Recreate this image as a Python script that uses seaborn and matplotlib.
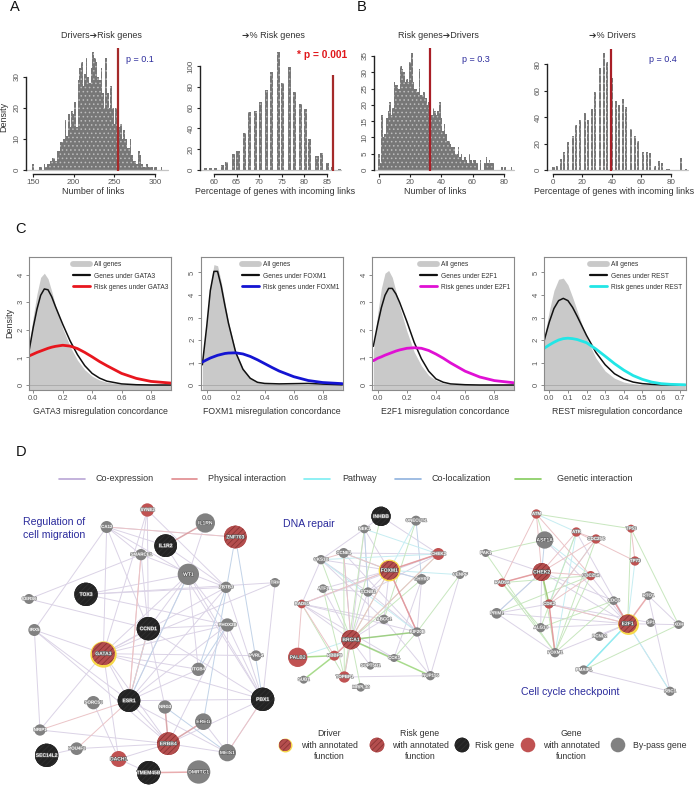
import numpy as np
import matplotlib
matplotlib.use("Agg")
import matplotlib.pyplot as plt
import matplotlib.patheffects as pe
from matplotlib.lines import Line2D
import seaborn as sns

W, H = 696, 787

# panel A / B histograms
a1_x = list(range(150, 310, 2))
a1_y = [2, 0, 0, 0, 1, 1, 0, 2, 1, 2, 2, 3, 4, 4, 3, 6, 6, 9, 9, 10,
        16, 11, 18, 14, 19, 18, 22, 14, 29, 33, 35, 27, 31, 36, 30, 28, 33, 38, 36, 35,
        30, 29, 33, 25, 20, 36, 25, 20, 27, 20, 15, 20, 20, 14, 15, 10, 13, 10, 7, 7,
        10, 5, 3, 3, 2, 6, 5, 2, 1, 1, 2, 1, 1, 1, 0, 1, 1, 0, 0, 1]
a2_x = [58.2, 59.3, 60.3, 61.8, 62.8, 64.3, 65.3, 66.7, 67.8, 69.2, 70.2, 71.7, 72.7,
        74.2, 75.2, 76.7, 77.8, 79.2, 80.3, 81.2, 82.8, 83.7, 85.2, 86.2, 87.7]
a2_y = [2, 2, 2, 5, 8, 15, 18, 36, 56, 57, 65, 77, 94, 113, 84, 99, 75, 63, 59, 30, 13, 16, 7, 3, 1]
b1_x = list(range(0, 86))
b1_y = [5, 2, 17, 10, 11, 16, 18, 21, 17, 19, 27, 26, 26, 25, 32, 31, 30, 27, 28, 27,
        33, 36, 27, 25, 25, 24, 31, 23, 23, 24, 22, 20, 21, 18, 17, 19, 18, 17, 18, 21,
        16, 12, 14, 11, 9, 9, 8, 7, 7, 5, 5, 7, 4, 5, 3, 4, 3, 2, 5, 3,
        2, 3, 3, 2, 0, 3, 0, 0, 2, 4, 2, 3, 2, 2, 0, 0, 0, 0, 0, 1,
        0, 1, 0, 0, 0, 1]
b2_x = [0.5, 2.7, 5.6, 7.4, 10.6, 13.7, 15.5, 18.5, 21.6, 23.7, 26.8, 28.6, 31.8, 34.9, 36.7,
        39.9, 42.8, 44.6, 47.8, 49.6, 52.7, 55.9, 57.7, 60.9, 63.8, 65.6, 69.0, 72.1, 73.7,
        77.1, 78.9, 87.0, 90.2]
b2_y = [2, 3, 8, 14, 21, 26, 34, 38, 43, 38, 46, 59, 77, 89, 82, 70, 52, 49, 54, 48, 31,
        26, 22, 14, 14, 13, 3, 7, 5, 1, 1, 9, 1]

# panel C density curves
c_x = [-0.03, 0, 0.025, 0.05, 0.075, 0.1, 0.125, 0.15, 0.2, 0.25, 0.3, 0.35, 0.4, 0.45, 0.5, 0.6, 0.7, 0.8, 0.935]
c4_x = [-0.03, 0, 0.025, 0.05, 0.075, 0.1, 0.125, 0.15, 0.2, 0.25, 0.3, 0.35, 0.4, 0.45, 0.5, 0.55, 0.6, 0.65, 0.73]
gata3_all = [1.4, 2.5, 3.3, 3.9, 4.05, 3.85, 3.4, 2.9, 2.05, 1.4, 0.9, 0.55, 0.32, 0.18, 0.1, 0.03, 0.01, 0, 0]
gata3_tf = [1.2, 2.1, 2.75, 3.25, 3.48, 3.45, 3.2, 2.85, 2.2, 1.6, 1.1, 0.7, 0.42, 0.25, 0.14, 0.04, 0.01, 0, 0]
gata3_risk = [1.05, 1.12, 1.18, 1.23, 1.28, 1.33, 1.37, 1.4, 1.44, 1.41, 1.32, 1.18, 1.02, 0.85, 0.7, 0.42, 0.24, 0.13, 0.07]
foxm1_all = [1.0, 2.8, 4.4, 5.35, 5.3, 4.6, 3.7, 2.8, 1.5, 0.75, 0.35, 0.15, 0.08, 0.05, 0.04, 0.04, 0.04, 0.03, 0.01]
foxm1_tf = [0.9, 2.6, 4.2, 5.05, 5.05, 4.4, 3.55, 2.75, 1.45, 0.7, 0.3, 0.12, 0.07, 0.06, 0.05, 0.06, 0.07, 0.04, 0.01]
foxm1_risk = [1.02, 1.12, 1.2, 1.26, 1.32, 1.36, 1.4, 1.42, 1.43, 1.38, 1.27, 1.12, 0.95, 0.78, 0.62, 0.37, 0.2, 0.11, 0.06]
e2f1_all = [1.2, 2.6, 3.5, 4.05, 4.15, 3.9, 3.4, 2.85, 1.95, 1.2, 0.7, 0.35, 0.17, 0.07, 0.03, 0.01, 0, 0, 0]
e2f1_tf = [1.4, 2.2, 2.8, 3.25, 3.5, 3.5, 3.3, 3.0, 2.3, 1.55, 0.95, 0.5, 0.22, 0.1, 0.04, 0.01, 0, 0, 0]
e2f1_risk = [0.88, 0.97, 1.02, 1.08, 1.13, 1.18, 1.23, 1.27, 1.33, 1.35, 1.33, 1.25, 1.12, 0.97, 0.8, 0.5, 0.29, 0.16, 0.08]
rest_all = [2.0, 3.3, 4.2, 4.7, 4.75, 4.45, 3.9, 3.3, 2.1, 1.2, 0.62, 0.3, 0.13, 0.06, 0.02, 0.01, 0, 0, 0]
rest_tf = [1.9, 2.8, 3.4, 3.75, 3.85, 3.75, 3.45, 3.05, 2.2, 1.45, 0.9, 0.5, 0.27, 0.13, 0.06, 0.03, 0.01, 0, 0]
rest_risk = [1.62, 1.78, 1.9, 2.0, 2.06, 2.08, 2.06, 2.02, 1.88, 1.6, 1.28, 0.95, 0.66, 0.42, 0.25, 0.13, 0.06, 0.03, 0.01]

# panel D networks: name, x, y, radius, kind (in 3x crop units, see origin passed to draw_network)
left_names = ["SYNE2", "IL1RN", "CA12", "ZNF703", "IL1R2", "SMARCE1", "WT1", "ZBTB3", "TRH", "CERS6", "TOX3", "CCND1",
              "IRX5", "PHOX2B", "GATA3", "PVRL4", "ITGB4", "ESR1", "PBX1", "SORCS3", "NRG3", "EREG", "NRIP1",
              "ERBB4", "POU4F2", "SEC14L2", "MEIS1", "DACH1", "TMEM45B", "DMRTC1"]
left_x = [442, 616, 320, 706, 497, 423, 565, 678, 825, 87, 258, 445, 103, 682, 310, 768, 595, 387, 788, 280, 495, 610,
          120, 505, 230, 140, 682, 356, 446, 596]
left_y = [240, 279, 291, 321, 347, 374, 433, 472, 458, 507, 493, 596, 600, 585, 671, 677, 718, 812, 808, 818, 831, 875,
          900, 941, 956, 976, 968, 987, 1028, 1026]
left_r = [20, 29, 18, 34, 34, 17, 32, 17, 14, 15, 35, 35, 18, 20, 34, 16, 20, 34, 35, 20, 20, 25, 17, 34, 19, 35, 26, 24, 35, 35]
left_kind = ["red", "grey", "grey", "hatch", "black", "grey", "grey", "grey", "grey", "grey", "black", "black", "grey", "grey",
             "driver", "grey", "grey", "black", "black", "grey", "grey", "grey", "grey", "hatch", "grey", "black", "grey",
             "red", "black", "grey"]
left_edges = {
    "co": "CA12-ZNF703 CA12-IL1R2 CA12-WT1 CA12-SMARCE1 CA12-GATA3 CA12-IRX5 CA12-CCND1 SYNE2-SMARCE1 SYNE2-GATA3 "
          "SYNE2-CCND1 SYNE2-ZBTB3 IL1RN-WT1 IL1R2-ZBTB3 SMARCE1-CERS6 SMARCE1-CCND1 SMARCE1-ZBTB3 WT1-TOX3 WT1-GATA3 "
          "WT1-ESR1 WT1-PBX1 WT1-PHOX2B WT1-ITGB4 WT1-CCND1 TOX3-ZBTB3 TOX3-PHOX2B TOX3-TRH CERS6-CCND1 IRX5-ESR1 "
          "IRX5-NRIP1 IRX5-GATA3 IRX5-ERBB4 GATA3-PVRL4 GATA3-PBX1 GATA3-ITGB4 GATA3-ESR1 GATA3-NRIP1 GATA3-ERBB4 "
          "GATA3-PHOX2B GATA3-CCND1 GATA3-TRH GATA3-DACH1 GATA3-ZBTB3 CCND1-PBX1 CCND1-PHOX2B CCND1-ESR1 CCND1-NRG3 "
          "ESR1-PBX1 ESR1-ERBB4 ESR1-MEIS1 ESR1-PHOX2B ESR1-ZBTB3 ESR1-ITGB4 PBX1-MEIS1 PBX1-ERBB4 PHOX2B-MEIS1 "
          "EREG-MEIS1 SORCS3-DACH1 NRIP1-ERBB4 POU4F2-ERBB4 SEC14L2-POU4F2 DACH1-ERBB4 DACH1-TMEM45B ERBB4-MEIS1 "
          "PHOX2B-PBX1 PHOX2B-ERBB4 ZBTB3-PBX1 IL1R2-PBX1 TRH-PBX1",
    "phys": "ESR1-NRIP1 ESR1-SMARCE1 CCND1-ESR1 SMARCE1-ESR1 PBX1-MEIS1 ESR1-POU4F2 CA12-ZNF703",
    "path": "IL1RN-IL1R2 ERBB4-EREG ERBB4-NRG3 CCND1-ESR1",
    "loc": "ZNF703-PBX1 ZNF703-EREG ZBTB3-ITGB4 WT1-ESR1 PHOX2B-ITGB4 CCND1-ESR1 NRG3-MEIS1",
    "gen": "",
}
left_thick = [("TMEM45B", "DMRTC1", "phys"), ("IL1RN", "IL1R2", "phys"), ("ERBB4", "NRG3", "phys"), ("ERBB4", "EREG", "phys")]

mid_names = ["INHBB", "ONECUT1", "NEK1", "CHEK2", "CCNE1", "CKS1B", "FOXM1", "CENPF", "CHYRP", "ATF1", "CCNB2", "RAD51",
             "ABCC1", "KIF20B", "BRCA1", "PALB2", "RBBP8", "CCK1", "SUPT5H1", "NUP155", "TOPBP1", "SUB1", "MRPL30"]
mid_x = [333, 438, 283, 505, 221, 153, 358, 570, 455, 159, 294, 95, 342, 441, 243, 83, 193, 372, 301, 481, 223, 101, 272]
mid_y = [259, 272, 297, 372, 369, 389, 421, 434, 448, 476, 486, 522, 568, 606, 629, 682, 677, 684, 707, 737, 741, 749, 772]
mid_r = [29, 15, 13, 18, 15, 14, 28, 13, 16, 13, 14, 13, 14, 14, 29, 29, 15, 12, 12, 14, 17, 12, 13]
mid_kind = ["black", "grey", "grey", "red", "grey", "grey", "driver", "grey", "grey", "grey", "grey", "red", "grey", "grey",
            "hatch", "red", "red", "grey", "grey", "grey", "red", "grey", "grey"]
mid_edges = {
    "co": "INHBB-NEK1 INHBB-CHEK2 NEK1-FOXM1 NEK1-CCNB2 NEK1-CKS1B CCNE1-FOXM1 CCNE1-CHEK2 CKS1B-FOXM1 CKS1B-RAD51 CKS1B-CCNB2 "
          "FOXM1-CHYRP FOXM1-CCNB2 FOXM1-KIF20B FOXM1-ABCC1 FOXM1-ATF1 FOXM1-RAD51 CHEK2-CCNB2 CHEK2-RAD51 CHYRP-KIF20B "
          "CHYRP-CCK1 ATF1-BRCA1 ATF1-CCNB2 RAD51-BRCA1 RAD51-KIF20B RAD51-ABCC1 RAD51-CCK1 CCNB2-BRCA1 CCNB2-KIF20B "
          "CCNB2-SUPT5H1 ABCC1-BRCA1 ABCC1-NUP155 KIF20B-BRCA1 KIF20B-NUP155 BRCA1-SUPT5H1 BRCA1-CCK1 TOPBP1-NUP155 "
          "CENPF-NUP155 CKS1B-ABCC1 CCNE1-KIF20B NEK1-BRCA1",
    "phys": "FOXM1-CCNE1 FOXM1-BRCA1 FOXM1-CHEK2 BRCA1-CHEK2 RAD51-PALB2 BRCA1-TOPBP1 BRCA1-RBBP8 CCNE1-BRCA1 RAD51-FOXM1 "
            "FOXM1-KIF20B RAD51-RBBP8 CKS1B-CCNE1",
    "path": "ONECUT1-FOXM1 FOXM1-CENPF CKS1B-CHEK2 NEK1-CHEK2 PALB2-BRCA1 TOPBP1-BRCA1 FOXM1-CCNE1 CKS1B-KIF20B",
    "loc": "ONECUT1-CHYRP NEK1-CCNB2 FOXM1-CHYRP CCNE1-BRCA1",
    "gen": "INHBB-BRCA1 ONECUT1-ABCC1 FOXM1-BRCA1 CHEK2-BRCA1 CHYRP-BRCA1 CENPF-KIF20B CKS1B-BRCA1 NEK1-TOPBP1 MRPL30-BRCA1 "
           "CCK1-KIF20B ATF1-TOPBP1 RAD51-TOPBP1 CCNE1-TOPBP1",
}
mid_thick = [("BRCA1", "NUP155", "gen"), ("BRCA1", "KIF20B", "gen"), ("SUB1", "RBBP8", "gen"), ("PALB2", "RBBP8", "gen"),
             ("FOXM1", "CHEK2", "phys"), ("FOXM1", "KIF20B", "phys"), ("BRCA1", "RBBP8", "phys")]

right_names = ["ATM", "TP53", "ATR", "CDC25C", "ASF1A", "PAK1", "TP73", "CHEK2", "CDC25A", "RAD9A", "CDC6", "RTO1", "CDK2",
               "PRIM1", "E2F1", "SP1", "XDH", "ALG13", "BCNL2", "FOXM1", "PMAIP1", "SBC1"]
right_x = [799, 1083, 919, 978, 824, 647, 1095, 815, 962, 696, 1031, 1135, 837, 680, 1073, 1142, 1226, 812, 988, 855, 941, 1200]
right_y = [252, 296, 306, 327, 330, 369, 393, 426, 437, 458, 512, 497, 522, 550, 581, 578, 584, 593, 619, 668, 720, 784]
right_r = [14, 12, 14, 14, 26, 12, 14, 27, 14, 13, 13, 13, 14, 16, 27, 13, 13, 14, 14, 14, 14, 14]
right_kind = ["red", "red", "red", "red", "grey", "grey", "red", "hatch", "red", "red", "grey", "grey", "red", "grey", "driver",
              "grey", "grey", "grey", "grey", "grey", "grey", "grey"]
right_edges = {
    "co": "PRIM1-E2F1 PRIM1-CDK2 PRIM1-FOXM1 PRIM1-CHEK2 PAK1-CHEK2 ALG13-E2F1 ALG13-CHEK2 CHEK2-E2F1 CHEK2-CDC6 CDC25A-E2F1 "
          "CDK2-E2F1 CDK2-SP1 RTO1-XDH E2F1-XDH BCNL2-E2F1 FOXM1-E2F1 PMAIP1-SBC1 ATR-E2F1 ASF1A-E2F1 CDC6-E2F1 RTO1-SBC1",
    "phys": "ATM-RAD9A ATM-CHEK2 ATR-CHEK2 ATR-CDC25C CDC25C-CHEK2 CHEK2-CDC25A CHEK2-CDK2 RAD9A-CHEK2 TP53-TP73 CDC25A-CDK2 "
            "CDK2-FOXM1 E2F1-CDC6 E2F1-CDK2 CDC25C-CDK2 ATR-TP73 ATM-CDC25A",
    "path": "ATM-ATR ATR-FOXM1 E2F1-SBC1 E2F1-PMAIP1 TP73-E2F1 CDC25A-ASF1A ATR-CDK2 CDC25C-CDK2",
    "loc": "E2F1-SBC1 E2F1-PMAIP1 ASF1A-CHEK2 PRIM1-CHEK2",
    "gen": "ATM-TP53 ATM-ASF1A PAK1-ASF1A PAK1-FOXM1 RAD9A-FOXM1 RAD9A-ALG13 TP53-XDH TP53-E2F1 CHEK2-FOXM1 ATR-ALG13 PRIM1-CDC25A "
           "CDC25C-FOXM1 ALG13-CDC6 PMAIP1-XDH FOXM1-CDC25A CDC6-FOXM1 RAD9A-CDC25A",
}
right_thick = [("CHEK2", "CDK2", "gen"), ("E2F1", "RTO1", "phys"), ("E2F1", "CDC6", "phys"), ("RAD9A", "CHEK2", "phys"),
               ("CDK2", "FOXM1", "phys"), ("PMAIP1", "E2F1", "path")]

edge_labels = ["Co-expression", "Physical interaction", "Pathway", "Co-localization", "Genetic interaction"]
node_labels = ["Driver\nwith annotated\nfunction", "Risk gene\nwith annotated\nfunction", "Risk gene",
               "Gene\nwith annotated\nfunction", "By-pass gene"]

EDGE_COLORS = {"co": "#dbd3e6", "phys": "#ebc4c7", "path": "#c6edf2", "loc": "#c2d3e8", "gen": "#c8e7bf"}
LEGEND_EDGE = ["#b9a6d6", "#e08a8e", "#7ceef2", "#8fb2de", "#84cc5c"]
NODE_COLORS = {"red": "#c05252", "grey": "#818181", "black": "#232323", "hatch": "#b44e4e", "driver": "#b44e4e"}
BLUE = "#2b2b9c"
TICK = "#555555"

sns.set_theme(style="ticks")
plt.rcParams["font.family"] = ["Liberation Sans", "DejaVu Sans"]
plt.rcParams["hatch.linewidth"] = 0.6

fig = plt.figure(figsize=(W / 100, H / 100), dpi=100)


def px_axes(left, top, right, bottom):
    return fig.add_axes([left / W, 1 - bottom / H, (right - left) / W, (bottom - top) / H])


def hist_panel(xs, ys, x_map, y_map, rect, xticks, yticks, redline, bar_width):
    left, top, right, bottom = rect
    ax = px_axes(left, top, right, bottom)
    sns.barplot(x=xs, y=ys, native_scale=True, width=bar_width, color="#777777", saturation=1, errorbar=None,
                linewidth=0, edgecolor="#bdbdbd", hatch="....", ax=ax)
    (d0, p0), (d1, p1) = x_map
    sx = (p1 - p0) / (d1 - d0)
    ax.set_xlim(d0 + (left - p0) / sx, d0 + (right - p0) / sx)
    ax.set_ylim(0, y_map * (bottom - top))
    ax.axhline(0, color="#c4c4c4", lw=0.9, clip_on=False)
    ax.vlines(redline[0], -y_map, redline[1], color=redline[2], lw=1.6, clip_on=False, zorder=5)
    ax.set_xticks(xticks)
    ax.set_yticks(yticks)
    ax.set_xlabel("")
    ax.set_ylabel("")
    ax.patch.set_alpha(0)
    sns.despine(ax=ax, offset=dict(bottom=2.9))
    ax.spines["left"].set_bounds(yticks[0], yticks[-1])
    ax.spines["bottom"].set_bounds(xticks[0], xticks[-1])
    for side in ["left", "bottom"]:
        ax.spines[side].set_linewidth(1.0)
        ax.spines[side].set_color("#222222")
    ax.tick_params(axis="both", length=2.4, width=0.8, color="#222222", labelcolor=TICK, labelsize=5.8, pad=1.5)
    for lab in ax.get_yticklabels():
        lab.set_rotation(90)
        lab.set_va("center")
    return ax


def density_panel(xs, all_y, tf_y, risk_y, color, box, x_map, y_scale, xticks, yticks, tf, legend_x):
    left, top, right, bottom = box
    ax = px_axes(left, top, right, bottom)
    (d0, p0), (d1, p1) = x_map
    sx = (p1 - p0) / (d1 - d0)
    ax.set_xlim(d0 + (left - p0) / sx, d0 + (right - p0) / sx)
    ax.set_ylim(-(bottom - 385) / y_scale, (385 - top) / y_scale)
    ax.fill_between(xs, -1, all_y, color="#c9c9c9", lw=0)
    ax.axhline(0, color="#a8a8a8", lw=0.6)
    sns.lineplot(x=xs, y=tf_y, color="#111111", lw=1.1, estimator=None, ax=ax)
    sns.lineplot(x=xs, y=risk_y, color=color, lw=2.0, estimator=None, ax=ax)
    ax.set_xticks(xticks)
    ax.set_xticklabels([f"{t:.1f}" for t in xticks])
    ax.set_yticks(yticks)
    for s in ax.spines.values():
        s.set_color("#8a8a8a")
        s.set_linewidth(0.8)
    ax.tick_params(axis="both", length=2, width=0.6, color="#777777", labelcolor=TICK, labelsize=5.5, pad=1.5)
    for lab in ax.get_yticklabels():
        lab.set_rotation(90)
        lab.set_va("center")
    handles = [Line2D([], [], color="#c9c9c9", lw=4.2, solid_capstyle="round"),
               Line2D([], [], color="#111111", lw=1.6),
               Line2D([], [], color=color, lw=2.0)]
    labels = ["All genes", f"Genes under {tf}", f"Risk genes under {tf}"]
    ax.legend(handles, labels, loc="upper left", bbox_to_anchor=(legend_x / W, 1 - 261.5 / H),
              bbox_transform=fig.transFigure, frameon=False, fontsize=4.75, borderpad=0, borderaxespad=0,
              handlelength=2.6, handletextpad=0.6, labelspacing=0.62, labelcolor="#333333")
    return ax


def draw_nodes(ax, xs, ys, rs, kinds):
    xs, ys, rs, kinds = np.array(xs), np.array(ys), np.array(rs, dtype=float), np.array(kinds)
    sizes = (2 * rs * 0.72) ** 2
    mask = kinds == "driver"
    if mask.any():
        sns.scatterplot(x=xs[mask], y=ys[mask], s=sizes[mask] * 1.35, color="#f6d84a", linewidth=0, ax=ax, zorder=3, legend=False)
    sns.scatterplot(x=xs, y=ys, hue=kinds, palette=NODE_COLORS, s=sizes, linewidth=0, ax=ax, zorder=4, legend=False)
    mask = (kinds == "hatch") | (kinds == "driver")
    sns.scatterplot(x=xs[mask], y=ys[mask], s=sizes[mask], color="#b44e4e", edgecolor="#8a3434", linewidth=0,
                    hatch="//////", ax=ax, zorder=5, legend=False)
    mask = kinds == "black"
    sns.scatterplot(x=xs[mask], y=ys[mask], s=sizes[mask], color="#232323", edgecolor="#303030", linewidth=0,
                    hatch="//////", ax=ax, zorder=5, legend=False)


def draw_network(ax, origin, names, xs, ys, rs, kinds, edges, thick):
    ox, oy = origin
    px = ox + np.array(xs) / 3
    py = oy + np.array(ys) / 3
    pos = dict(zip(names, zip(px, py)))
    for kind in ["co", "loc", "path", "gen", "phys"]:
        for pair in edges[kind].split():
            a, b = pair.split("-")
            ax.plot([pos[a][0], pos[b][0]], [pos[a][1], pos[b][1]], color=EDGE_COLORS[kind], lw=0.7, zorder=1)
    for a, b, kind in thick:
        ax.plot([pos[a][0], pos[b][0]], [pos[a][1], pos[b][1]], color=LEGEND_EDGE[["co", "phys", "path", "loc", "gen"].index(kind)],
                lw=1.1, alpha=0.7, zorder=2)
    radii = np.array(rs) / 3
    draw_nodes(ax, px, py, radii, kinds)
    for name, x, y, r in zip(names, px, py, radii):
        ax.text(x, y, name, color="white", fontsize=3.2 if r < 8 else 3.6, fontweight="bold", ha="center", va="center", zorder=6,
                path_effects=[pe.withStroke(linewidth=0.8, foreground="#8a8a8a" if r < 8 else "#555555")])


# panel A and B
hist_panel(a1_x, a1_y, ((150, 33), (300, 155)), 1 / 3.1, (25.7, 46, 168, 170), [150, 200, 250, 300], [0, 10, 20, 30],
           (254, 39.4, "#a52a2a"), 1.0)
hist_panel(a2_x, a2_y, ((60, 214), (85, 327)), 1 / 1.04, (200, 46, 341, 170), [60, 65, 70, 75, 80, 85], [0, 20, 40, 60, 80, 100],
           (86.3, 91, "#a52a2a"), 0.78)
hist_panel(b1_x, b1_y, ((0, 379), (80, 503.7)), 1 / 3.26, (374.3, 46, 514, 170), [0, 20, 40, 60, 80], [0, 5, 10, 15, 20, 25, 30, 35],
           (33, 37.5, "#a81e26"), 1.0)
hist_panel(b2_x, b2_y, ((0, 552.7), (80, 671)), 1 / 1.32, (547, 46, 688, 170), [0, 20, 40, 60, 80], [0, 20, 40, 60, 80],
           (39.5, 92, "#a81e26"), 0.9)

# panel C
t8 = [0.0, 0.2, 0.4, 0.6, 0.8]
density_panel(c_x, gata3_all, gata3_tf, gata3_risk, "#e8161e", (29.3, 256.7, 170.7, 390), ((0, 33.3), (0.8, 151)), 27.6,
              t8, [0, 1, 2, 3, 4], "GATA3", 73)
density_panel(c_x, foxm1_all, foxm1_tf, foxm1_risk, "#1414d2", (201, 256.7, 342.7, 390), ((0, 206.7), (0.8, 322.7)), 22.5,
              t8, [0, 1, 2, 3, 4, 5], "FOXM1", 242)
density_panel(c_x, e2f1_all, e2f1_tf, e2f1_risk, "#e010d4", (372.3, 256.7, 514.3, 390), ((0, 377.7), (0.8, 494.3)), 27.6,
              t8, [0, 1, 2, 3, 4], "E2F1", 420)
density_panel(c4_x, rest_all, rest_tf, rest_risk, "#22e6e6", (544.3, 256.7, 685.7, 390), ((0, 549.3), (0.7, 679.7)), 22.5,
              [0.0, 0.1, 0.2, 0.3, 0.4, 0.5, 0.6, 0.7], [0, 1, 2, 3, 4, 5], "REST", 590)

# overlay in pixel units for all free text and the networks
ov = fig.add_axes([0, 0, 1, 1])
ov.set_xlim(0, W)
ov.set_ylim(H, 0)
ov.axis("off")
ov.patch.set_alpha(0)


def label(x, y, s, size=6.5, color="#333333", ha="center", **kw):
    ov.text(x, y, s, fontsize=size, color=color, ha=ha, va="center", **kw)


for x, y, s in [(15, 7, "A"), (362, 7, "B"), (21, 229, "C"), (21, 452, "D")]:
    label(x, y, s, size=10.5, color="#111111")
for x, s in [(101.6, "Drivers\u2794Risk genes"), (273, "\u2794% Risk genes"), (438, "Risk genes\u2794Drivers"), (612, "\u2794% Drivers")]:
    label(x, 35, s)
for x, s in [(93, "Number of links"), (275, "Percentage of genes with incoming links"), (435, "Number of links"),
             (614, "Percentage of genes with incoming links")]:
    label(x, 192, s, size=6.4)
label(4, 117, "Density", rotation=90)
label(10, 323, "Density", rotation=90)
for x, s in [(126, "p = 0.1"), (462, "p = 0.3"), (649, "p = 0.4")]:
    label(x, 59, s, color=BLUE, ha="left")
label(297, 55, "* p = 0.001", color="#e0181c", ha="left", fontweight="bold", size=7.4)
for x, s in [(100.7, "GATA3"), (271.7, "FOXM1"), (445, "E2F1"), (617.7, "REST")]:
    label(x, 411.7, f"{s} misregulation concordance", size=6.3)

# panel D edge legend
for (x0, x1, tx), s, c in zip([(59, 85, 96), (172, 197, 208), (304, 330, 342), (395, 421, 432), (515, 541, 557)], edge_labels, LEGEND_EDGE):
    ov.plot([x0, x1], [478.6, 478.6], color=c, lw=1.2)
    label(tx, 478.6, s, ha="left")

label(23, 522, "Regulation of", size=7.6, color=BLUE, ha="left")
label(23, 535, "cell migration", size=7.6, color=BLUE, ha="left")
label(283, 524, "DNA repair", size=7.6, color=BLUE, ha="left")
label(521, 692, "Cell cycle checkpoint", size=7.6, color=BLUE, ha="left")

draw_network(ov, (0, 430), left_names, left_x, left_y, left_r, left_kind, left_edges, left_thick)
draw_network(ov, (270, 430), mid_names, mid_x, mid_y, mid_r, mid_kind, mid_edges, mid_thick)
draw_network(ov, (270, 430), right_names, right_x, right_y, right_r, right_kind, right_edges, right_thick)

# panel D node legend
draw_nodes(ov, [285, 377, 462, 528, 618], [745, 745, 745, 745, 745], [6, 7.3, 7.3, 7.3, 7.3], ["driver", "hatch", "black", "red", "grey"])
for x, s, ha in [(329, node_labels[0], "center"), (420, node_labels[1], "center"), (475, node_labels[2], "left"),
                 (571, node_labels[3], "center"), (633, node_labels[4], "left")]:
    label(x, 745, s, ha=ha, linespacing=1.3, size=6.3)

ov.set_xlim(0, W)
ov.set_ylim(H, 0)
ov.set_xlabel("")
ov.set_ylabel("")

fig.savefig("out.png", dpi=100, facecolor="white")
